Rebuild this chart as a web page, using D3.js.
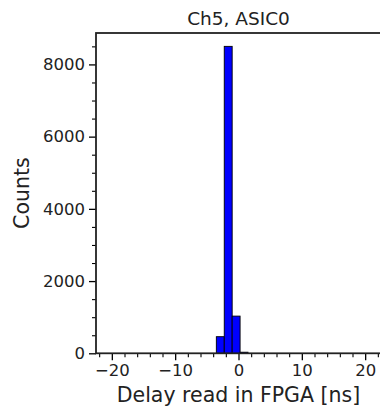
<!DOCTYPE html>
<html><head><meta charset="utf-8">
<script src="https://cdn.jsdelivr.net/npm/d3@7"></script>
<style>body{margin:0;background:#fff}svg{display:block}</style>
</head><body>
<script>
const binStarts = [-3.5, -2.25, -1.0, 0.25];
const binWidth = 1.25;
const counts = [460, 8500, 1030, 30];
const xTicks = [-20, -10, 0, 10, 20];
const yTicks = [0, 2000, 4000, 6000, 8000];
const title = "Ch5, ASIC0";
const xLabel = "Delay read in FPGA [ns]";
const yLabel = "Counts";

const W = 380, H = 409;
const FONT = "'DejaVu Sans', sans-serif";
const m = {left: 96, right: 381, top: 33, bottom: 353.3};
const svg = d3.select("body").append("svg").attr("width", W).attr("height", H)
  .style("font-family", FONT);

const x = d3.scaleLinear().domain([-22.5, 22.5]).range([m.left, m.right]);
const y = d3.scaleLinear().domain([0, 8870]).range([m.bottom, m.top]);

// bars
svg.append("g").selectAll("rect").data(counts).join("rect")
  .attr("x", (d, i) => x(binStarts[i]))
  .attr("width", (d, i) => x(binStarts[i] + binWidth) - x(binStarts[i]))
  .attr("y", d => y(d))
  .attr("height", d => y(0) - y(d))
  .attr("fill", "#0000ff").attr("stroke", "#000").attr("stroke-width", 0.9);

// x axis
const xMinor = d3.range(-22, 23, 2).filter(v => v % 10 !== 0);
const xa = svg.append("g").attr("transform", `translate(0,${m.bottom})`);
xa.call(d3.axisBottom(x).tickValues(xTicks).tickSize(7).tickPadding(4)
  .tickFormat(d => d < 0 ? "\u2212" + Math.abs(d) : d));
xa.select(".domain").remove();
xa.attr("font-size", null).attr("font-family", null);
xa.selectAll("line").attr("stroke", "#000").attr("stroke-width", 1.3);
xa.selectAll("text").style("font-size", "16.5px").style("font-family", FONT).attr("fill", "#222");
const xm = svg.append("g").attr("transform", `translate(0,${m.bottom})`);
xm.call(d3.axisBottom(x).tickValues(xMinor).tickSize(4).tickFormat(""));
xm.select(".domain").remove();
xm.selectAll("line").attr("stroke", "#000").attr("stroke-width", 1.1);

// y axis
const yMinor = d3.range(500, 8870, 500).filter(v => v % 2000 !== 0);
const ya = svg.append("g").attr("transform", `translate(${m.left},0)`);
ya.call(d3.axisLeft(y).tickValues(yTicks).tickSize(7).tickPadding(4).tickFormat(d3.format("d")));
ya.select(".domain").remove();
ya.attr("font-size", null).attr("font-family", null);
ya.selectAll("line").attr("stroke", "#000").attr("stroke-width", 1.3);
ya.selectAll("text").style("font-size", "16.5px").style("font-family", FONT).attr("fill", "#222");
const ym = svg.append("g").attr("transform", `translate(${m.left},0)`);
ym.call(d3.axisLeft(y).tickValues(yMinor).tickSize(4).tickFormat(""));
ym.select(".domain").remove();
ym.selectAll("line").attr("stroke", "#000").attr("stroke-width", 1.1);

// spines
svg.append("rect").attr("x", m.left).attr("y", m.top)
  .attr("width", m.right - m.left).attr("height", m.bottom - m.top)
  .attr("fill", "none").attr("stroke", "#222").attr("stroke-width", 1.8);

// labels
svg.append("text").attr("x", (m.left + m.right) / 2).attr("y", 25)
  .attr("text-anchor", "middle").style("font-size", "18.5px").attr("fill", "#222").text(title);
svg.append("text").attr("x", (m.left + m.right) / 2).attr("y", 402)
  .attr("text-anchor", "middle").style("font-size", "20.5px").attr("fill", "#222").text(xLabel);
svg.append("text").attr("transform", `translate(29,${(m.top + m.bottom) / 2}) rotate(-90)`)
  .attr("text-anchor", "middle").style("font-size", "20.5px").attr("fill", "#222").text(yLabel);
</script>
</body></html>
